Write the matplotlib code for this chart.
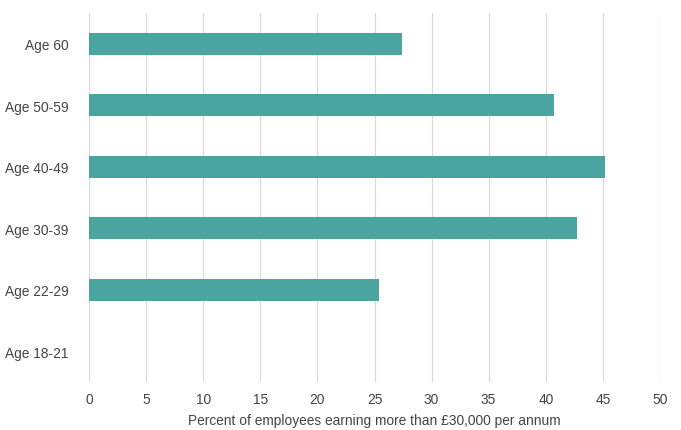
import matplotlib.pyplot as plt

# Dữ liệu
age_groups = ['Age 18-21', 'Age 22-29', 'Age 30-39', 'Age 40-49', 'Age 50-59', 'Age 60']
percent = [0, 25.4, 42.7, 45.2, 40.7, 27.4]
x_ticks = [0, 5, 10, 15, 20, 25, 30, 35, 40, 45, 50]

plt.rcParams['font.family'] = ['Liberation Sans', 'DejaVu Sans']

fig = plt.figure(figsize=(6.81, 4.31), dpi=100)
ax = fig.add_axes([89 / 681, 1 - 383 / 431, (660 - 89) / 681, (383 - 14) / 431])

ax.barh(age_groups, percent, height=0.36, color='#4aa5a0', zorder=3)

ax.set_xlim(0, 50)
ax.set_ylim(-0.5, 5.5)
ax.set_xticks(x_ticks)
ax.grid(axis='x', color='#d9d9d9', linewidth=0.9, zorder=0)
ax.grid(axis='y', visible=False)

for s in ax.spines.values():
    s.set_visible(False)

ax.tick_params(axis='both', length=0, labelsize=9.9, labelcolor='#444444')
ax.tick_params(axis='y', pad=14.5)
ax.tick_params(axis='x', pad=7)
ax.set_xlabel('Percent of employees earning more than £30,000 per annum',
              fontsize=9.9, color='#444444', labelpad=5)

fig.savefig('out.png', dpi=100)
